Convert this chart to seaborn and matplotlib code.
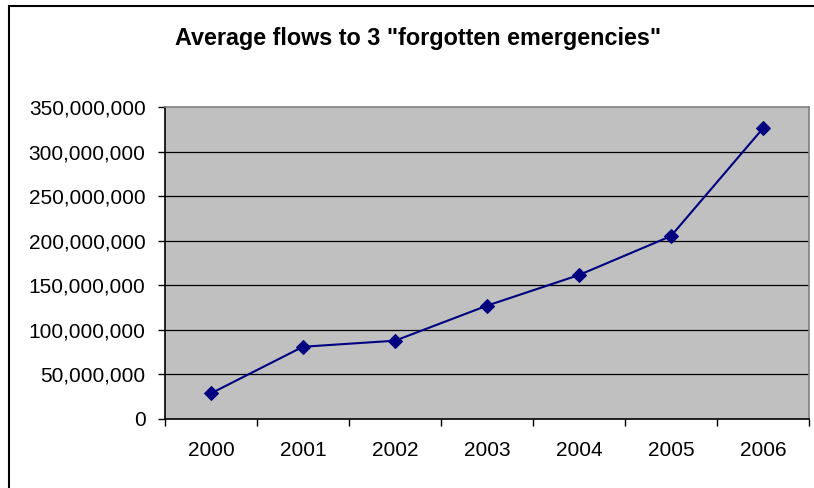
import matplotlib
matplotlib.use("Agg")
import matplotlib.pyplot as plt
import matplotlib.ticker as mticker
from matplotlib.patches import Rectangle
import seaborn as sns
import pandas as pd

years = [2000, 2001, 2002, 2003, 2004, 2005, 2006]
avg_flows = [28_300_000, 80_700_000, 87_500_000, 126_900_000,
             161_400_000, 205_200_000, 326_400_000]
y_ticks = [0, 50_000_000, 100_000_000, 150_000_000, 200_000_000,
           250_000_000, 300_000_000, 350_000_000]
title = 'Average flows to 3 "forgotten emergencies"'

sns.set_theme(style="white")
plt.rcParams["font.family"] = ["Liberation Sans", "DejaVu Sans"]

df = pd.DataFrame({"year": years, "flow": avg_flows})

fig = plt.figure(figsize=(8.14, 4.88), dpi=100)
fig.patch.set_facecolor("white")
ax = fig.add_axes([165 / 814, 1 - 418.5 / 488, 644 / 814, 311.2 / 488])
ax.set_facecolor("#C0C0C0")

# chart frame
fig.patches.append(Rectangle((9 / 814, -0.1), 1.2, 1 - 6 / 488 + 0.1,
                             transform=fig.transFigure, fill=False,
                             edgecolor="black", linewidth=1.5, zorder=0))

for v in y_ticks[1:-1]:
    ax.axhline(v, color="black", linewidth=0.9, zorder=1)

sns.lineplot(data=df, x="year", y="flow", ax=ax, color="#000080",
             linewidth=1.5, marker="D", markersize=7,
             markeredgecolor="#000080", markerfacecolor="#000080", zorder=3)

ax.set_xlim(years[0] - 0.5, years[-1] + 0.5)
ax.set_ylim(0, 350_000_000)
ax.set_xticks(years)
ax.set_xticklabels([str(y) for y in years])
ax.set_xticks([y - 0.5 for y in years] + [years[-1] + 0.5], minor=True)
ax.set_yticks(y_ticks)
ax.yaxis.set_major_formatter(mticker.FuncFormatter(lambda v, p: f"{int(v):,}"))

ax.tick_params(axis="x", which="major", length=0, pad=16, labelsize=15,
               colors="black")
ax.tick_params(axis="x", which="minor", bottom=True, length=5, width=1,
               color="black")
ax.tick_params(axis="y", which="major", left=True, length=5, width=1,
               pad=9, labelsize=15, color="black", labelcolor="black")

ax.set_xlabel("")
ax.set_ylabel("")

for side in ("left", "bottom"):
    ax.spines[side].set_color("black")
    ax.spines[side].set_linewidth(1.2)
for side in ("top", "right"):
    ax.spines[side].set_color("#808080")
    ax.spines[side].set_linewidth(1.2)
    ax.spines[side].set_visible(True)

fig.text(418 / 814, 1 - 38 / 488, title, ha="center", va="center",
         fontsize=16.8, fontweight="bold", color="black")

fig.savefig("out.png", dpi=100)
